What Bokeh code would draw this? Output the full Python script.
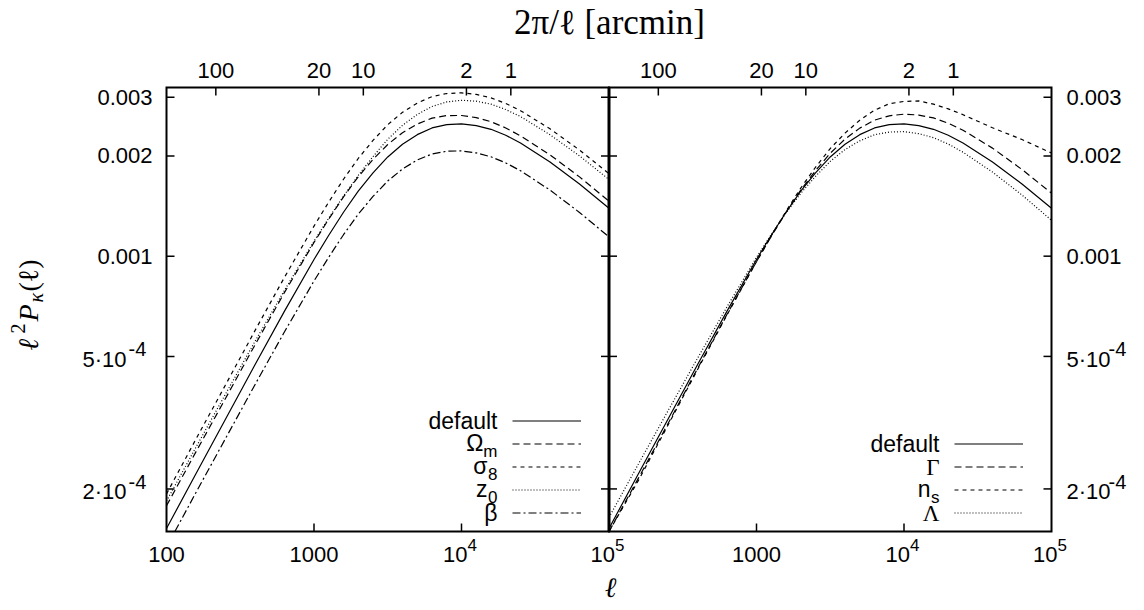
import math
from bokeh.plotting import figure
from bokeh.models import Range1d, LogScale, Label, Legend, LegendItem
from bokeh.core.properties import value
from bokeh.embed import file_html
from bokeh.resources import INLINE

# ---------------- data ----------------
ell = [100, 158, 251, 398, 631, 1000, 1259, 1585, 1995, 2512, 3162, 3981, 5012,
       6310, 7943, 10000, 12589, 15849, 19953, 25119, 39811, 63096, 100000]

# left panel
default = [1.521e-4, 2.218e-4, 3.236e-4, 4.721e-4, 6.839e-4, 9.772e-4, 1.156e-3, 1.355e-3,
           1.567e-3, 1.778e-3, 1.986e-3, 2.168e-3, 2.317e-3, 2.427e-3, 2.483e-3, 2.495e-3,
           2.466e-3, 2.404e-3, 2.307e-3, 2.188e-3, 1.919e-3, 1.648e-3, 1.393e-3]
omega_m = [1.780e-4, 2.580e-4, 3.738e-4, 5.415e-4, 7.783e-4, 1.0994e-3, 1.2924e-3, 1.5068e-3,
           1.7315e-3, 1.9522e-3, 2.1647e-3, 2.3479e-3, 2.4931e-3, 2.5969e-3, 2.6444e-3, 2.6447e-3,
           2.6066e-3, 2.5338e-3, 2.4270e-3, 2.2974e-3, 2.0150e-3, 1.7304e-3, 1.4627e-3]
sigma_8 = [1.932e-4, 2.817e-4, 4.103e-4, 5.977e-4, 8.645e-4, 1.2313e-3, 1.4542e-3, 1.7019e-3,
           1.9650e-3, 2.2261e-3, 2.4825e-3, 2.7035e-3, 2.8823e-3, 3.0143e-3, 3.0789e-3, 3.0938e-3,
           3.0603e-3, 2.9882e-3, 2.8745e-3, 2.7350e-3, 2.4122e-3, 2.0831e-3, 1.7691e-3]
z_0 = [1.840e-4, 2.662e-4, 3.851e-4, 5.547e-4, 7.899e-4, 1.1091e-3, 1.3005e-3, 1.5149e-3,
       1.7472e-3, 1.9914e-3, 2.2442e-3, 2.4715e-3, 2.6646e-3, 2.8153e-3, 2.9051e-3, 2.9391e-3,
       2.9197e-3, 2.8608e-3, 2.7569e-3, 2.6256e-3, 2.3162e-3, 2.0007e-3, 1.6995e-3]
# the beta curve enters the panel through the bottom edge at ell ~ 114
ell_beta = [114, 158, 251, 398, 631, 1000, 1259, 1585, 1995, 2512, 3162, 3981, 5012,
            6310, 7943, 10000, 12589, 15849, 19953, 25119, 39811, 63096, 100000]
beta = [1.49e-4, 1.947e-4, 2.832e-4, 4.112e-4, 5.929e-4, 8.423e-4, 9.930e-4, 1.1599e-3,
        1.3367e-3, 1.5113e-3, 1.6821e-3, 1.8276e-3, 1.9440e-3, 2.0265e-3, 2.0659e-3, 2.0709e-3,
        2.0418e-3, 1.9881e-3, 1.9056e-3, 1.8051e-3, 1.5793e-3, 1.3530e-3, 1.1423e-3]

# right panel
default_r = [1.521e-4, 2.218e-4, 3.236e-4, 4.721e-4, 6.839e-4, 9.772e-4, 1.156e-3, 1.355e-3,
             1.567e-3, 1.778e-3, 1.986e-3, 2.168e-3, 2.317e-3, 2.427e-3, 2.483e-3, 2.495e-3,
             2.466e-3, 2.404e-3, 2.307e-3, 2.188e-3, 1.919e-3, 1.648e-3, 1.393e-3]
gamma = [1.490e-4, 2.151e-4, 3.139e-4, 4.594e-4, 6.689e-4, 9.635e-4, 1.1468e-3, 1.3536e-3,
         1.5780e-3, 1.8064e-3, 2.0376e-3, 2.2460e-3, 2.4236e-3, 2.5605e-3, 2.6394e-3, 2.6697e-3,
         2.6534e-3, 2.6011e-3, 2.5077e-3, 2.3893e-3, 2.1109e-3, 1.8210e-3, 1.5462e-3]
n_s = [1.490e-4, 2.118e-4, 3.107e-4, 4.560e-4, 6.661e-4, 9.625e-4, 1.150e-3, 1.364e-3,
       1.601e-3, 1.849e-3, 2.105e-3, 2.341e-3, 2.560e-3, 2.743e-3, 2.870e-3, 2.915e-3,
       2.925e-3, 2.860e-3, 2.770e-3, 2.660e-3, 2.430e-3, 2.240e-3, 2.040e-3]
lam = [1.643e-4, 2.373e-4, 3.430e-4, 4.933e-4, 7.044e-4, 9.919e-4, 1.1618e-3, 1.3482e-3,
       1.5435e-3, 1.7371e-3, 1.9264e-3, 2.0900e-3, 2.2197e-3, 2.3154e-3, 2.3589e-3, 2.3653e-3,
       2.3328e-3, 2.2694e-3, 2.1709e-3, 2.0523e-3, 1.7885e-3, 1.5260e-3, 1.2816e-3]

# ticks and tick labels
x_ticks = [100, 1000, 10000, 100000]
x_tick_text = [("100", ""), ("1000", ""), ("10", "4"), ("10", "5")]
y_ticks = [3e-3, 2e-3, 1e-3, 5e-4, 2e-4]
y_tick_text = [("0.003", ""), ("0.002", ""), ("0.001", ""), ("5·10", "-4"), ("2·10", "-4")]
arcmin_ticks = [100, 20, 10, 2, 1]
left_names = [("default", ""), ("Ω", "m"), ("σ", "8"), ("z", "0"), ("β", "")]
right_names = [("default", ""), ("Γ", ""), ("n", "s"), ("Λ", "")]

X_RANGE = (100, 1e5)
Y_RANGE = (1.49e-4, 3.21e-3)

# ---------------- layout geometry (page pixels) ----------------
W, H = 1144, 610
FL, FM, FR, FT, FB = 166, 608.5, 1051, 87, 531   # panel edges
SANS = "Liberation Sans"
SERIF = "Liberation Serif"

# the plotting frame covers the whole canvas; each panel is a sub-box of it
dec_x = math.log10(X_RANGE[1] / X_RANGE[0])
ppd_x = (FM - FL) / dec_x
ppd_y = (FB - FT) / math.log10(Y_RANGE[1] / Y_RANGE[0])
xl = Range1d(X_RANGE[0] / 10 ** (FL / ppd_x), X_RANGE[0] * 10 ** ((W - FL) / ppd_x))
xr = Range1d(X_RANGE[0] / 10 ** (FM / ppd_x), X_RANGE[0] * 10 ** ((W - FM) / ppd_x))
yr = Range1d(Y_RANGE[0] / 10 ** ((H - FB) / ppd_y), Y_RANGE[1] * 10 ** (FT / ppd_y))

p = figure(width=W, height=H, title=None,
           x_axis_type="log", y_axis_type="log",
           x_range=xl, y_range=yr,
           x_axis_location=None, y_axis_location=None,
           min_border=0, min_border_left=0, min_border_right=0,
           min_border_top=0, min_border_bottom=0,
           output_backend="svg", toolbar_location=None)
p.extra_x_ranges = {"right": xr}
p.extra_x_scales = {"right": LogScale()}
p.grid.visible = False
p.outline_line_color = None
p.background_fill_color = "white"
p.border_fill_color = "white"

# ---------------- panel boxes and ticks ----------------
for rng in ("default", "right"):
    p.quad(left=[X_RANGE[0]], right=[X_RANGE[1]], bottom=[Y_RANGE[0]], top=[Y_RANGE[1]],
           fill_color=None, line_color="black", line_width=2, line_join="miter",
           x_range_name=rng)
    n = len(y_ticks)
    # y ticks on both vertical borders, pointing inward
    p.ray(x=[X_RANGE[0]] * n, y=y_ticks, length=8, angle=0, length_units="screen",
          line_color="black", line_width=1.5, x_range_name=rng)
    p.ray(x=[X_RANGE[1]] * n, y=y_ticks, length=8, angle=math.pi, length_units="screen",
          line_color="black", line_width=1.5, x_range_name=rng)
    # bottom ticks (ell)
    inner = x_ticks[1:-1]
    p.ray(x=inner, y=[Y_RANGE[0]] * len(inner), length=8, angle=math.pi / 2,
          length_units="screen", line_color="black", line_width=1.5, x_range_name=rng)
    # top ticks (2 pi / ell in arcmin)
    arc_ell = [21600.0 / t for t in arcmin_ticks]
    p.ray(x=arc_ell, y=[Y_RANGE[1]] * len(arc_ell), length=8, angle=-math.pi / 2,
          length_units="screen", line_color="black", line_width=1.5, x_range_name=rng)

# thicker separator between the panels
p.segment(x0=[X_RANGE[1]], y0=[Y_RANGE[0]], x1=[X_RANGE[1]], y1=[Y_RANGE[1]],
          line_color="black", line_width=3)

# ---------------- curves ----------------
styles_left = [(ell, default, "solid"), (ell, omega_m, "7 4"), (ell, sigma_8, "4 4"),
               (ell, z_0, "1 2"), (ell_beta, beta, "8 3 2 3")]
styles_right = [(ell, default_r, "solid"), (ell, gamma, "7 4"), (ell, n_s, "4 4"), (ell, lam, "1 2")]

rl = [p.line(xs, ys, line_color="black", line_width=1.2, line_dash=d) for xs, ys, d in styles_left]
rr = [p.line(xs, ys, line_color="black", line_width=1.2, line_dash=d, x_range_name="right")
      for xs, ys, d in styles_right]

LEG_ROW = 23
for rends, sample_x in ((rl, 512), (rr, 954)):
    leg = Legend(items=[LegendItem(label=value(" "), renderers=[r]) for r in rends],
                 location=(sample_x, H - FB + 7), orientation="vertical",
                 glyph_width=69, glyph_height=LEG_ROW, label_width=0, label_height=LEG_ROW,
                 label_standoff=0, spacing=0, padding=0, margin=0,
                 border_line_color=None, background_fill_alpha=0,
                 label_text_font_size="1px")
    p.add_layout(leg)


# ---------------- texts ----------------
def SY(Y):
    return H - Y


def txt(text, x, y, size="22px", font=SANS, align="left", base="middle",
        xu="screen", yu="screen", rng="default", xo=0, yo=0, angle=0, style="normal"):
    p.add_layout(Label(x=x, y=y, x_units=xu, y_units=yu, x_range_name=rng, text=text,
                       text_font=font, text_font_size=size, text_align=align,
                       text_baseline=base, x_offset=xo, y_offset=yo, angle=angle,
                       text_font_style=style, text_color="black"))


# y tick labels (left and right)
for t, (main, sup) in zip(y_ticks, y_tick_text):
    if not sup:
        txt(main, 152, t, align="right", yu="data")
        txt(main, 1066, t, align="left", yu="data")
    else:
        txt(main, 126, t, align="right", yu="data", yo=-3)
        txt(sup, 128, t, size="20px", align="left", yu="data", yo=7)
        txt(main, 1066, t, align="left", yu="data", yo=-3)
        txt(sup, 1108, t, size="20px", align="left", yu="data", yo=7)

# x tick labels
for rng, ticks in (("default", x_ticks), ("right", x_ticks[1:])):
    for t in ticks:
        main, sup = x_tick_text[x_ticks.index(t)]
        if not sup:
            txt(main, t, SY(554), align="center", xu="data", rng=rng)
        else:
            txt(main, t, SY(554), align="right", xu="data", rng=rng, xo=6)
            txt(sup, t, SY(544), size="17px", align="left", xu="data", rng=rng, xo=6)

# top (arcmin) tick labels
for rng in ("default", "right"):
    for th in arcmin_ticks:
        txt(str(th), 21600.0 / th, SY(70), align="center", xu="data", rng=rng)

# legend texts
sub_w = {"m": 14, "8": 10, "0": 10, "s": 9}
for names, xr_txt, n_rows in ((left_names, 497, 5), (right_names, 939, 4)):
    for i, (main, sub) in enumerate(names):
        Yrow = FB - 7 - LEG_ROW / 2 - (n_rows - 1 - i) * LEG_ROW
        f = SERIF if main in ("Γ", "Λ") else SANS
        if sub:
            txt(main, xr_txt - sub_w[sub], SY(Yrow), size="23px", font=f, align="right", yo=1)
            txt(sub, xr_txt, SY(Yrow + 7), size="17px", align="right")
        else:
            txt(main, xr_txt, SY(Yrow), size="23px", font=f, align="right")

# axis titles
txt("2π/ℓ [arcmin]", 609, SY(22), size="35px", font=SERIF, align="center")
txt("ℓ", 610, SY(587), size="28px", font=SERIF, align="center", style="italic")
A = math.pi / 2
txt("ℓ", 28, SY(350), size="28px", font=SERIF, angle=A, style="italic")
txt("2", 17, SY(333), size="20px", font=SERIF, angle=A)
txt("P", 28, SY(321), size="28px", font=SERIF, angle=A, style="italic")
txt("κ", 35, SY(302), size="20px", font=SERIF, angle=A, style="italic")
txt("(ℓ)", 28, SY(291), size="28px", font=SERIF, angle=A)

open("out.html", "w").write(file_html(p, INLINE))
